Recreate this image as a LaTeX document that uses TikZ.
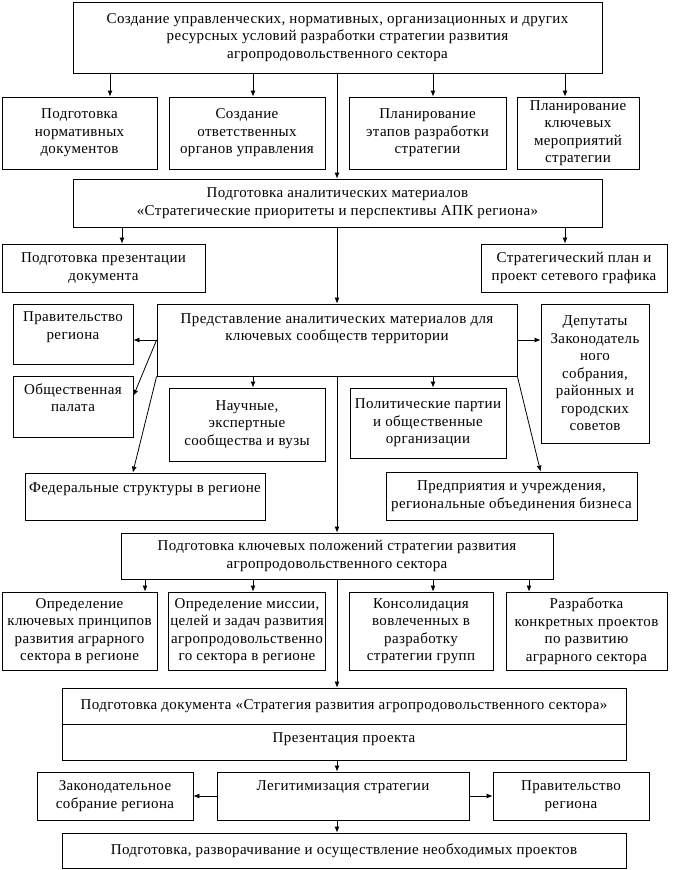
\documentclass[tikz,border=0pt]{standalone}
\usepackage{fontspec}
\setmainfont[LetterSpace=2.5]{Liberation Serif}
\usetikzlibrary{arrows.meta}

\begin{document}
\begin{tikzpicture}[x=1pt, y=-1pt, >={Latex[length=6pt,width=5pt]},
                    font=\fontsize{15}{17.5}\selectfont]
  \tikzstyle{blk}=[draw, line width=0.8pt, align=center, inner sep=2pt]
  \tikzstyle{arr}=[->, line width=0.8pt]
  \useasboundingbox (0,0) rectangle (674,870);

  % ================= UROVEN 1: resursnye usloviya =================
  \node[blk, minimum width=529, minimum height=71] (top) at (337.5,37.5)
    {Создание управленческих, нормативных, организационных и других\\
     ресурсных условий разработки стратегии развития\\
     агропродовольственного сектора};
  \node[blk, minimum width=155, minimum height=72] (normdoc) at (79.5,133)
    {Подготовка\\ нормативных\\ документов};
  \node[blk, minimum width=156, minimum height=72] (organy) at (247,133)
    {Создание\\ ответственных\\ органов управления};
  \node[blk, minimum width=157, minimum height=72] (etapy) at (427.5,133)
    {Планирование\\ этапов разработки\\ стратегии};
  \node[blk, minimum width=122, minimum height=72] (merop) at (578,133)
    {Планирование\\ ключевых\\ мероприятий\\ стратегии};
  \foreach \n/\x in {normdoc/110, organy/253, etapy/433, merop/565} {
    \coordinate (c) at (\x,0);
    \draw[arr] (c |- top.south) -- (c |- \n.north);
  }

  % ================= UROVEN 2: analiticheskie materialy =================
  \node[blk, minimum width=529, minimum height=48] (anal) at (337.5,203)
    {Подготовка аналитических материалов\\
     «Стратегические приоритеты и перспективы АПК региона»};
  \node[blk, minimum width=203, minimum height=48] (prezdoc) at (103.5,268)
    {Подготовка презентации\\ документа};
  \node[blk, minimum width=186, minimum height=48] (plan) at (574,268)
    {Стратегический план и\\ проект сетевого графика};
  \coordinate (axis) at (337,0);
  \draw[arr] (axis |- top.south) -- (axis |- anal.north);
  \foreach \n/\x in {prezdoc/122, plan/565} {
    \coordinate (c) at (\x,0);
    \draw[arr] (c |- anal.south) -- (c |- \n.north);
  }

  % ================= UROVEN 3: klyuchevye soobshchestva =================
  \node[blk, minimum width=360, minimum height=72, text depth=26pt] (repr) at (337,340)
    {Представление аналитических материалов для\\
     ключевых сообществ территории};
  \node[blk, minimum width=120, minimum height=60, text depth=17pt] (pravit) at (73,334)
    {Правительство\\ региона};
  \node[blk, minimum width=120, minimum height=61, text depth=18pt] (obsch) at (73,406.5)
    {Общественная\\ палата};
  \node[blk, minimum width=108, minimum height=139] (deput) at (595,373.5)
    {Депутаты\\ Законодатель\\ ного\\ собрания,\\ районных и\\ городских\\ советов};
  \node[blk, minimum width=156, minimum height=73] (nauch) at (247,424.5)
    {Научные,\\ экспертные\\ сообщества и вузы};
  \node[blk, minimum width=156, minimum height=70] (polit) at (428,423)
    {Политические партии\\ и общественные\\ организации};
  \node[blk, minimum width=240, minimum height=47, text depth=18pt] (feder) at (145,496.5)
    {Федеральные структуры в регионе};
  \node[blk, minimum width=251, minimum height=48] (predpr) at (511.5,496)
    {Предприятия и учреждения,\\ региональные объединения бизнеса};
  \draw[arr] (axis |- anal.south) -- (axis |- repr.north);
  \draw[arr] (repr.west) -- (repr.west -| pravit.east);
  \draw[arr] (repr.west) -- (obsch.10);
  \draw[arr] (repr.south west) -- (feder.117);
  \draw[arr] (repr.east) -- (repr.east -| deput.west);
  \draw[arr] (repr.south east) -- (predpr.40);
  \foreach \n/\x in {nauch/253, polit/433} {
    \coordinate (c) at (\x,0);
    \draw[arr] (c |- repr.south) -- (c |- \n.north);
  }

  % ================= UROVEN 4: klyuchevye polozheniya =================
  \node[blk, minimum width=432, minimum height=46] (klyuch) at (337,556)
    {Подготовка ключевых положений стратегии развития\\
     агропродовольственного сектора};
  \node[blk, minimum width=155, minimum height=78] (princ) at (79.5,631)
    {Определение\\ ключевых принципов\\ развития аграрного\\ сектора в регионе};
  \node[blk, minimum width=156, minimum height=78] (missia) at (247,631)
    {Определение миссии,\\ целей и задач развития\\ агропродовольственно\\ го сектора в регионе};
  \node[blk, minimum width=144, minimum height=78] (konsol) at (421,631)
    {Консолидация\\ вовлеченных в\\ разработку\\ стратегии групп};
  \node[blk, minimum width=161, minimum height=78] (proekty) at (586.5,631)
    {Разработка\\ конкретных проектов\\ по развитию\\ аграрного сектора};
  \draw[arr] (axis |- repr.south) -- (axis |- klyuch.north);
  \foreach \n/\x in {princ/145, missia/253, konsol/433, proekty/529} {
    \coordinate (c) at (\x,0);
    \draw[arr] (c |- klyuch.south) -- (c |- \n.north);
  }

  % ================= UROVEN 5: dokument i legitimizaciya =================
  \node[blk, minimum width=564, minimum height=36] (docA) at (344,706)
    {Подготовка документа «Стратегия развития агропродовольственного сектора»};
  \node[blk, minimum width=564, minimum height=36, text depth=8pt] (docB) at (344,742)
    {Презентация проекта};
  \node[blk, minimum width=252, minimum height=48, text depth=21pt] (legit) at (343,796)
    {Легитимизация стратегии};
  \node[blk, minimum width=156, minimum height=48] (zakon) at (115,796)
    {Законодательное\\ собрание региона};
  \node[blk, minimum width=156, minimum height=48] (prav2) at (571,796)
    {Правительство\\ региона};
  \node[blk, minimum width=564, minimum height=35] (final) at (344,850.5)
    {Подготовка, разворачивание и осуществление необходимых проектов};
  \draw[arr] (axis |- klyuch.south) -- (axis |- docA.north);
  \draw[arr] (axis |- docB.south) -- (axis |- legit.north);
  \draw[arr] (legit.west) -- (zakon.east);
  \draw[arr] (legit.east) -- (prav2.west);
  \draw[arr] (axis |- legit.south) -- (axis |- final.north);
\end{tikzpicture}
\end{document}
